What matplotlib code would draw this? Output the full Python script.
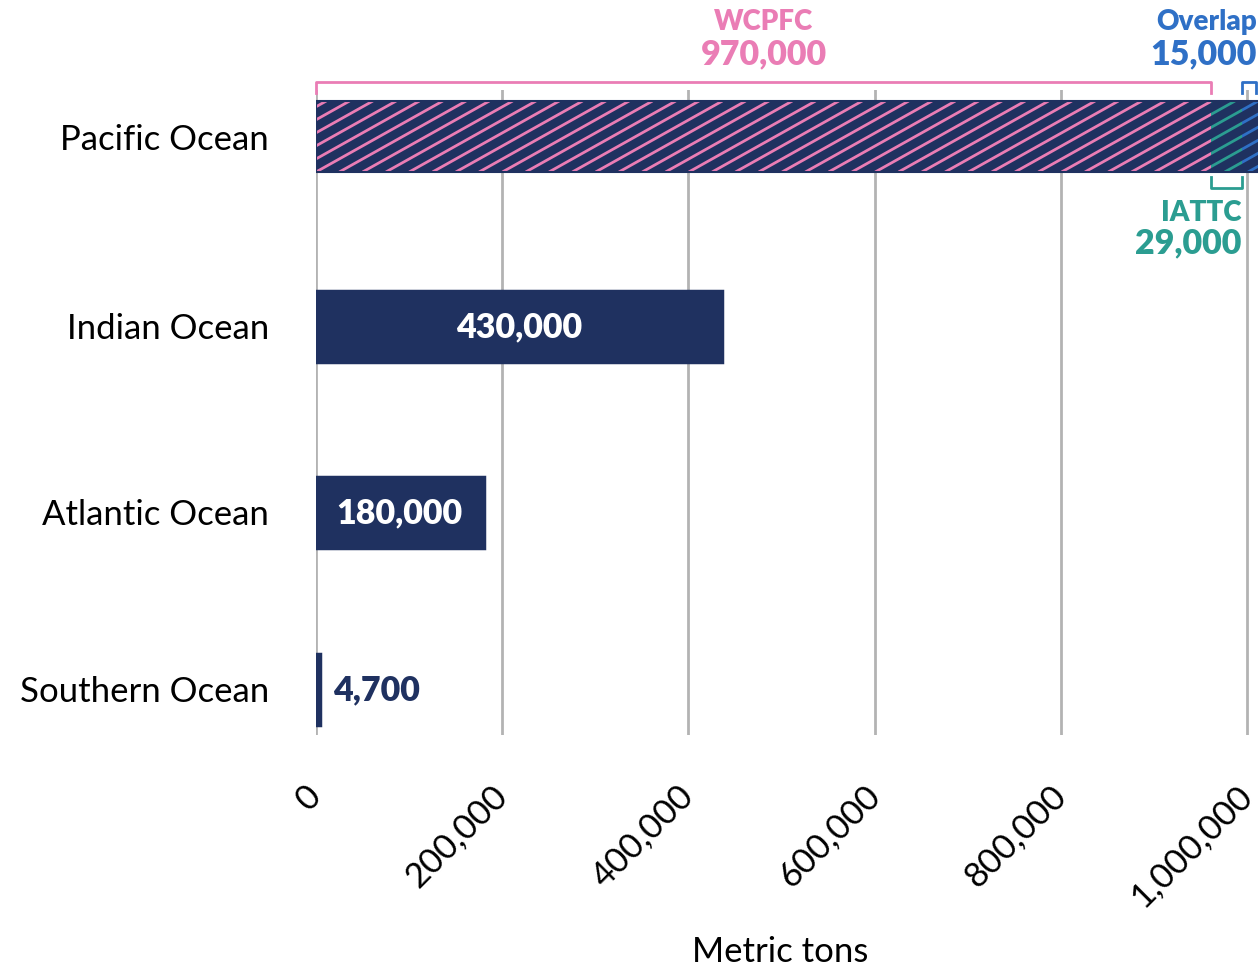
"""
Prises par océan, en tonnes métriques
"""

import numpy as np
import matplotlib.pyplot as plt
from matplotlib.patches import Rectangle

plt.rcParams['font.family'] = ['Lato', 'DejaVu Sans']

oceans = ['Pacific Ocean', 'Indian Ocean', 'Atlantic Ocean', 'Southern Ocean']
catch = [1012000, 436000, 180000, 4700]
catch_labels = ['', '430,000', '180,000', '4,700']

# morceaux de la barre Pacifique : WCPFC seul, IATTC seul, chevauchement
pacific_parts = [961000, 33000, 20000]
pacific_names = ['WCPFC', 'IATTC', 'Overlap']
pacific_labels = ['970,000', '29,000', '15,000']

ticks = [0, 200000, 400000, 600000, 800000, 1000000]
tick_labels = ['0', '200,000', '400,000', '600,000', '800,000', '1,000,000']

navy = '#1f3160'
pink = '#ea7db5'
teal = '#2b9d91'
blue = '#2f70c6'
grid_c = '#b3b3b3'

W, H = 1258, 971
fig = plt.figure(figsize=(W / 100, H / 100), dpi=100)
ax_l, ax_r, ax_t, ax_b = 316, 1258, 90, 735
ax = fig.add_axes([ax_l / W, 1 - ax_b / H, (ax_r - ax_l) / W, (ax_b - ax_t) / H])

# axe y en pixels depuis le haut de la figure
row_y = [136.5, 326, 512, 689]
bh = 71

xmax = 1011600
ax.set_xlim(0, xmax)
ax.set_ylim(ax_b, ax_t)
for s in ax.spines.values():
    s.set_visible(False)

ax.set_xticks(ticks)
ax.set_xticklabels(tick_labels, rotation=45, ha='right', va='center',
                   rotation_mode='anchor', fontsize=25)
ax.tick_params(axis='x', length=0, pad=40)
ax.set_yticks(row_y)
ax.set_yticklabels(oceans, fontsize=25)
ax.tick_params(axis='y', length=0, pad=34)
ax.grid(axis='x', color=grid_c, linewidth=2, zorder=0)
ax.set_axisbelow(True)
fig.text(780 / W, 1 - 952 / H, 'Metric tons', fontsize=25,
         ha='center', va='center')

ax.barh(row_y[1:], catch[1:], height=bh, color=navy, edgecolor=navy,
        linewidth=2.5, zorder=2)

# barre Pacifique avec hachures
px_x = (ax_r - ax_l) / xmax
slope = 0.56
step = 23.3
hatch_cols = [pink, teal, blue]
yc = row_y[0]
left = 0
for part, col in zip(pacific_parts, hatch_cols):
    rect = Rectangle((left, yc - bh / 2), part, bh, facecolor=navy,
                     edgecolor='none', zorder=2)
    ax.add_patch(rect)
    span = bh / slope / px_x
    for k in range(-12, 50):
        x0 = k * step / px_x
        ln, = ax.plot([x0, x0 + span], [yc + bh / 2, yc - bh / 2], color=col,
                      linewidth=2.0, zorder=3, solid_capstyle='butt')
        ln.set_clip_path(rect)
    left += part
# bord fin autour de la barre
ax.add_patch(Rectangle((0, yc - bh / 2), sum(pacific_parts), bh,
                       facecolor='none', edgecolor=navy, linewidth=1.5,
                       zorder=4))

# étiquettes des barres
for i in range(1, len(oceans)):
    if catch[i] > 100000:
        ax.text(catch[i] / 2, row_y[i] + 1, catch_labels[i], color='white',
                fontsize=24.5, fontweight='heavy', ha='center', va='center',
                zorder=5)
    else:
        ax.text(catch[i] + 14000, row_y[i] + 1, catch_labels[i], color=navy,
                fontsize=24.5, fontweight='heavy', ha='left', va='center',
                zorder=5)


def bracket(x0, x1, y_line, y_tip, col):
    ax.plot([x0, x0, x1, x1], [y_tip, y_line, y_line, y_tip], color=col,
            linewidth=2, clip_on=False, zorder=5)


b0 = 0
b1 = pacific_parts[0]
b2 = b1 + pacific_parts[1]
b3 = 1009000
bracket(b0, b1, 82, 93, pink)
bracket(b2, b3, 82, 93, blue)
bracket(b1, b2, 188, 177, teal)

kw_name = dict(fontsize=20, fontweight='heavy', va='center', clip_on=False)
kw_val = dict(fontsize=24.5, fontweight='heavy', va='center', clip_on=False)
ax.text(b1 / 2, 22, pacific_names[0], color=pink, ha='center', **kw_name)
ax.text(b1 / 2, 54, pacific_labels[0], color=pink, ha='center', **kw_val)
ax.text(1010000, 22, pacific_names[2], color=blue, ha='right', **kw_name)
ax.text(1010000, 54, pacific_labels[2], color=blue, ha='right', **kw_val)
ax.text(b2, 213, pacific_names[1], color=teal, ha='right', **kw_name)
ax.text(b2, 243, pacific_labels[1], color=teal, ha='right', **kw_val)

fig.savefig('out.png', dpi=100)
